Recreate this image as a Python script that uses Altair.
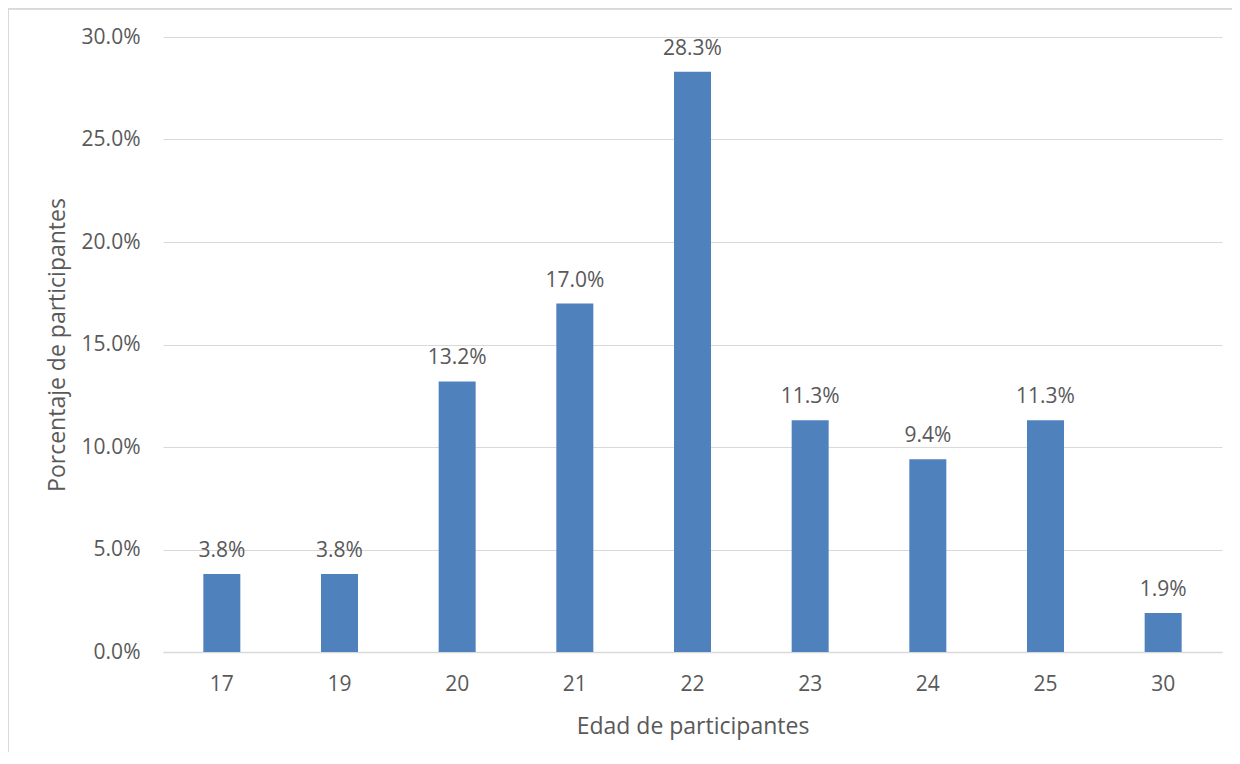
import altair as alt
import pandas as pd

edades = ["17", "19", "20", "21", "22", "23", "24", "25", "30"]
porcentajes = [0.038, 0.038, 0.132, 0.170, 0.283, 0.113, 0.094, 0.113, 0.019]

df = pd.DataFrame({"edad": edades, "pct": porcentajes})

FONT = "Open Sans"
TXT = "#595959"
GRID = "#D9D9D9"
W, H = 1059, 615

x = alt.X("edad:O", sort=edades,
          scale=alt.Scale(paddingInner=0, paddingOuter=0),
          axis=alt.Axis(title="Edad de participantes", labelAngle=0,
                        ticks=False, labelPadding=21, labelFontSize=21,
                        labelColor=TXT, labelFont=FONT, grid=False,
                        domainColor=GRID, domainWidth=1.5,
                        titleFontSize=23, titleFont=FONT, titleColor=TXT,
                        titleFontWeight="normal", titleY=81, titleBaseline="alphabetic"))
y = alt.Y("pct:Q", scale=alt.Scale(domain=[0, 0.30]),
          axis=alt.Axis(title="Porcentaje de participantes", format=".1%",
                        values=[0, 0.05, 0.10, 0.15, 0.20, 0.25, 0.30],
                        ticks=False, domain=False, labelPadding=23,
                        labelFontSize=21, labelColor=TXT, labelFont=FONT,
                        gridColor=GRID, gridWidth=1,
                        titleFontSize=23, titleFont=FONT, titleColor=TXT,
                        titleFontWeight="normal", titleAngle=-90,
                        titleX=-106, titleY=H / 2, titleAlign="center",
                        titleBaseline="middle"))

bars = alt.Chart(df).mark_bar(size=37, color="#4F81BD").encode(x=x, y=y)
labels = alt.Chart(df).mark_text(dy=-17, baseline="alphabetic", fontSize=21,
                                 font=FONT, color=TXT).encode(
    x=alt.X("edad:O", sort=edades), y="pct:Q",
    text=alt.Text("pct:Q", format=".1%"))

border_left = alt.Chart(df).mark_rule(color=GRID, strokeWidth=1.5).encode(
    x=alt.value(-155), y=alt.value(-29), y2=alt.value(H + 100))
border_top = alt.Chart(df).mark_rule(color=GRID, strokeWidth=1.5).encode(
    x=alt.value(-155), x2=alt.value(W + 10), y=alt.value(-28.5))

chart = alt.layer(bars, labels, border_left, border_top).properties(
    width=W, height=H,
    background="white",
    autosize=alt.AutoSizeParams(type="none"),
    padding={"left": 155, "top": 29, "right": 10, "bottom": 100},
).configure_view(stroke=None)

chart.save("out.html", embed_options={"renderer": "svg", "actions": False})
